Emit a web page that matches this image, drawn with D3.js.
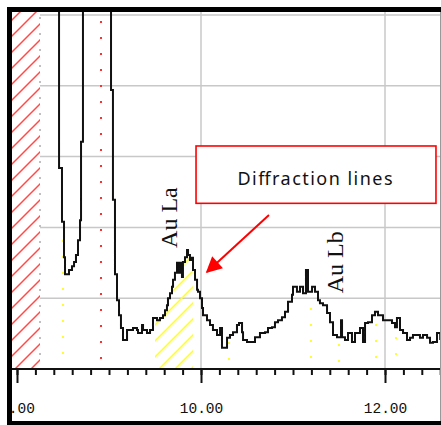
<!DOCTYPE html>
<html>
<head>
<meta charset="utf-8">
<script src="https://cdn.jsdelivr.net/npm/d3@7"></script>
<style>
  html, body { margin: 0; padding: 0; background: #fff; }
  svg { display: block; }
</style>
</head>
<body>
<div id="vis-holder"></div>
<script>
// spectrum (keV, counts), drawn as steps
const energy = [7.946, 8.457, 8.489, 8.511, 8.522, 8.565, 8.598, 8.620, 8.641, 8.663, 8.685, 8.696, 8.717,
  9.022, 9.043, 9.065, 9.087, 9.109, 9.130, 9.152, 9.196, 9.228, 9.261, 9.304, 9.315, 9.359, 9.370, 9.413,
  9.446, 9.478, 9.522, 9.554, 9.587, 9.609, 9.630, 9.641, 9.663, 9.685, 9.696, 9.717, 9.739, 9.750, 9.772,
  9.793, 9.804, 9.826, 9.848, 9.859, 9.880, 9.902, 9.913, 9.935, 9.957, 9.967, 9.989, 10.011, 10.022, 10.065,
  10.098, 10.130, 10.174, 10.207, 10.228, 10.261, 10.283, 10.315, 10.348, 10.391, 10.413, 10.446, 10.457,
  10.500, 10.554, 10.587, 10.641, 10.696, 10.728, 10.772, 10.804, 10.837, 10.880, 10.913, 10.946, 10.989,
  11.000, 11.043, 11.076, 11.109, 11.141, 11.163, 11.207, 11.239, 11.272, 11.293, 11.326, 11.370, 11.402,
  11.435, 11.478, 11.522, 11.533, 11.565, 11.598, 11.641, 11.674, 11.728, 11.761, 11.783, 11.815, 11.859,
  11.891, 11.924, 11.978, 12.033, 12.076, 12.109, 12.130, 12.163, 12.196, 12.239, 12.272, 12.304, 12.348,
  12.380, 12.413, 12.457, 12.489, 12.522, 12.565, 12.600];
const counts = [3000, 284, 208, 158, 134, 140, 145, 151, 161, 182, 210, 321, 3000,
  394, 239, 134, 97, 76, 58, 41, 55, 55, 58, 55, 51, 62, 55, 51,
  55, 72, 69, 72, 76, 83, 90, 100, 107, 116, 126, 136, 150, 136, 150,
  130, 151, 158, 168, 161, 154, 157, 140, 126, 112, 109, 100, 86, 76, 69,
  62, 55, 48, 58, 30, 30, 44, 48, 52, 62, 65, 52, 41,
  38, 38, 45, 51, 52, 58, 59, 66, 69, 73, 81, 95, 105,
  116, 109, 116, 107, 140, 109, 116, 109, 97, 93, 90, 79, 66,
  48, 45, 69, 45, 41, 51, 38, 51, 58, 38, 65, 66, 76,
  81, 76, 69, 69, 65, 59, 72, 55, 51, 41, 44, 48, 48,
  44, 48, 44, 37, 38, 51, 41];

const gridCounts = [100, 200, 300, 400, 500];
const gridEnergy = [10, 12];
const majorTicks = [8, 10, 12];
const minorTicks = d3.range(8, 12.61, 0.2);

// shaded bands and marker lines
const excludedBand = [7.946, 8.25];
const peakBand = [9.5, 9.913];
const redMarker = 8.913;
const markerEnergy = [8.50, 10.30, 11.196, 11.50, 11.90, 12.12];
const markerTop = [182, 38, 86, 35, 64, 45];

const lineLabels = ["Au La", "Au Lb"];
const labelEnergy = [9.739, 11.543];
const labelCount = [171, 107];

const noteText = "Diffraction lines";

const W = 441, H = 425;
const plot = { left: 12, right: 440, top: 12, bottom: 369 };

const x = d3.scaleLinear().domain([8, 12]).range([17, 385]);
const y = d3.scaleLinear().domain([0, 500]).range([369, 15]);

const svg = d3.select("#vis-holder").append("svg")
  .attr("width", W).attr("height", H);

svg.append("rect").attr("width", W).attr("height", H).attr("fill", "#fff");

const defs = svg.append("defs");
defs.append("clipPath").attr("id", "plotClip")
  .append("rect")
  .attr("x", plot.left).attr("y", plot.top)
  .attr("width", plot.right - plot.left).attr("height", plot.bottom - plot.top);

function hatch(id, color) {
  const p = defs.append("pattern").attr("id", id)
    .attr("patternUnits", "userSpaceOnUse")
    .attr("width", 16).attr("height", 16);
  p.append("path")
    .attr("d", "M-4,4 L4,-4 M0,16 L16,0 M12,20 L20,12")
    .attr("stroke", color).attr("stroke-width", 1.5);
}
hatch("redHatch", "#ff4a4a");
hatch("yellowHatch", "#ffff20");

const data = energy.map((e, i) => ({ e: e, c: counts[i] }));

const area = d3.area().curve(d3.curveStepAfter)
  .x(d => x(d.e)).y0(y(0)).y1(d => y(d.c));
defs.append("clipPath").attr("id", "underCurve")
  .append("path").attr("d", area(data));

const g = svg.append("g").attr("clip-path", "url(#plotClip)");

// grid
g.selectAll(".hgrid").data(gridCounts).enter().append("line")
  .attr("x1", plot.left).attr("x2", plot.right)
  .attr("y1", d => y(d)).attr("y2", d => y(d))
  .attr("stroke", "#c8c8c8").attr("stroke-width", 1.5);
g.selectAll(".vgrid").data(gridEnergy).enter().append("line")
  .attr("x1", d => x(d)).attr("x2", d => x(d))
  .attr("y1", plot.top).attr("y2", plot.bottom)
  .attr("stroke", "#c8c8c8").attr("stroke-width", 1.5);

// excluded band on the left
g.append("rect")
  .attr("x", x(excludedBand[0])).attr("y", plot.top)
  .attr("width", x(excludedBand[1]) - x(excludedBand[0]))
  .attr("height", plot.bottom - plot.top)
  .attr("fill", "#fff");
g.append("rect")
  .attr("x", x(excludedBand[0])).attr("y", plot.top)
  .attr("width", x(excludedBand[1]) - x(excludedBand[0]))
  .attr("height", plot.bottom - plot.top)
  .attr("fill", "url(#redHatch)");
g.append("line")
  .attr("x1", x(excludedBand[1])).attr("x2", x(excludedBand[1]))
  .attr("y1", y(500) + 2).attr("y2", plot.bottom)
  .attr("stroke", "#c0c0c0").attr("stroke-width", 2)
  .attr("stroke-dasharray", "2 14")
  .attr("shape-rendering", "crispEdges");

// red dotted marker
g.append("line")
  .attr("x1", x(redMarker)).attr("x2", x(redMarker))
  .attr("y1", y(500) + 6).attr("y2", plot.bottom)
  .attr("stroke", "#ff3030").attr("stroke-width", 2)
  .attr("stroke-dasharray", "2 14")
  .attr("shape-rendering", "crispEdges");

// peak band (under the curve)
g.append("g").attr("clip-path", "url(#underCurve)")
  .append("rect")
  .attr("x", x(peakBand[0])).attr("y", plot.top)
  .attr("width", x(peakBand[1]) - x(peakBand[0]))
  .attr("height", plot.bottom - plot.top)
  .attr("fill", "url(#yellowHatch)");

// yellow dotted markers
g.selectAll(".ymark").data(markerEnergy).enter().append("line")
  .attr("x1", d => x(d)).attr("x2", d => x(d))
  .attr("y1", (d, i) => y(markerTop[i]))
  .attr("y2", plot.bottom)
  .attr("stroke", "#ffff30").attr("stroke-width", 2)
  .attr("stroke-dasharray", "2 14")
  .attr("shape-rendering", "crispEdges");

// spectrum
const line = d3.line().curve(d3.curveStepAfter)
  .x(d => x(d.e)).y(d => y(d.c));
g.append("path").datum(data)
  .attr("d", line)
  .attr("fill", "none")
  .attr("stroke", "#111").attr("stroke-width", 2);

// line labels
svg.selectAll(".lbl").data(lineLabels).enter().append("text")
  .attr("transform", (d, i) => `translate(${x(labelEnergy[i])},${y(labelCount[i])}) rotate(-90)`)
  .attr("font-family", "'Liberation Serif', serif")
  .attr("font-size", 24)
  .attr("fill", "#111")
  .text(d => d);

// annotation box
const bx0 = x(9.946), bx1 = x(12.554), by0 = y(315), by1 = y(234);
svg.append("rect")
  .attr("x", bx0).attr("y", by0)
  .attr("width", bx1 - bx0).attr("height", by1 - by0)
  .attr("fill", "#fff").attr("stroke", "#ff0000").attr("stroke-width", 1.6);
svg.append("text")
  .attr("x", (bx0 + bx1) / 2 - 1).attr("y", by0 + 39)
  .attr("text-anchor", "middle")
  .attr("font-family", "'Noto Sans', sans-serif")
  .attr("font-size", 18)
  .attr("textLength", 155).attr("lengthAdjust", "spacing")
  .attr("fill", "#111")
  .text(noteText);

// arrow
defs.append("marker").attr("id", "head")
  .attr("viewBox", "0 0 10 10").attr("refX", 9).attr("refY", 5)
  .attr("markerWidth", 9).attr("markerHeight", 8)
  .attr("markerUnits", "strokeWidth")
  .attr("orient", "auto")
  .append("path").attr("d", "M0,0 L10,5 L0,10 z").attr("fill", "#ff0000");
svg.append("line")
  .attr("x1", x(10.739)).attr("y1", y(217.5))
  .attr("x2", x(10.065)).attr("y2", y(137))
  .attr("stroke", "#ff0000").attr("stroke-width", 2)
  .attr("marker-end", "url(#head)");

// x axis
const axis = svg.append("g").attr("transform", `translate(0,${plot.bottom})`);
axis.append("g")
  .call(d3.axisBottom(x).tickValues(minorTicks).tickSize(6).tickFormat(""))
  .call(a => a.select(".domain").remove())
  .call(a => a.selectAll("line").attr("stroke", "#111").attr("stroke-width", 2));
axis.append("g")
  .call(d3.axisBottom(x).tickValues(majorTicks).tickSize(14).tickFormat(d3.format(".2f")))
  .call(a => a.select(".domain").remove())
  .call(a => a.selectAll("line").attr("stroke", "#111").attr("stroke-width", 2))
  .call(a => a.selectAll("text")
    .attr("y", 44).attr("dy", 0)
    .attr("fill", "#111")
    .attr("font-family", "'Liberation Mono', monospace")
    .attr("font-size", 14.5));
axis.append("line")
  .attr("x1", plot.left).attr("x2", plot.right)
  .attr("stroke", "#111").attr("stroke-width", 2);

// frame
svg.append("rect").attr("x", 0).attr("y", 0).attr("width", 7).attr("height", H).attr("fill", "#fff");
svg.append("rect").attr("x", 7).attr("y", 7).attr("width", W - 7).attr("height", 5).attr("fill", "#000");
svg.append("rect").attr("x", 7).attr("y", 7).attr("width", 5).attr("height", H - 7).attr("fill", "#000");
svg.append("rect").attr("x", 7).attr("y", 421).attr("width", W - 7).attr("height", 4).attr("fill", "#000");
svg.append("line").attr("x1", 440.5).attr("x2", 440.5).attr("y1", 12).attr("y2", 421)
  .attr("stroke", "#999").attr("stroke-width", 1);
</script>
</body>
</html>
